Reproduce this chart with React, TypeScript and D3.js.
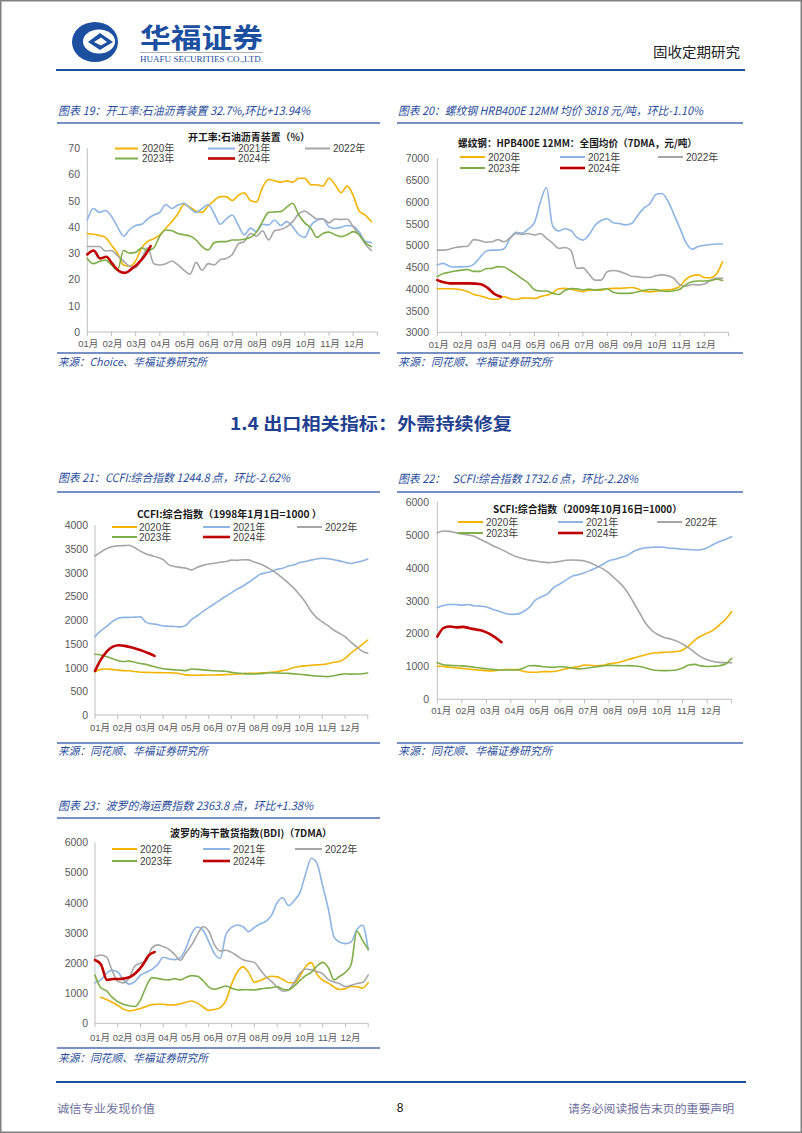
import React from "react";
import * as d3 from "d3";

// ---------- shared categories ----------
const SERIES_NAMES = ["2020年", "2021年", "2022年", "2023年", "2024年"];
const SERIES_COLORS = ["#F2B400", "#8DB4E2", "#A6A6A6", "#7FAE48", "#C00000"];
const SERIES_WIDTHS = [1.6, 1.6, 1.6, 1.6, 2.6];
const MONTH_LABELS = ["01月", "02月", "03月", "04月", "05月", "06月", "07月", "08月", "09月", "10月", "11月", "12月"];
const STEP = 0.25; // months between readings (2020-2023)
const STEP_2024 = 0.262; // months between readings (2024)

// ---------- 图表19 开工率:石油沥青装置 (%) ----------
const asphalt2020 = [37.5, 37.2, 36.7, 36.0, 33.0, 30.0, 25.5, 25.0, 27.0, 32.0, 34.5, 35.5, 37.0, 39.5, 42.0, 45.0, 48.5, 47.5, 46.0, 45.5, 48.0, 50.0, 51.5, 51.5, 50.0, 52.0, 53.0, 50.0, 49.5, 55.0, 58.0, 57.5, 57.0, 57.5, 57.0, 58.5, 58.5, 56.0, 56.0, 55.5, 58.5, 56.0, 53.0, 55.5, 52.0, 46.0, 44.5, 42.0];
const asphalt2021 = [42.6, 47.0, 45.5, 46.2, 44.0, 40.0, 36.5, 39.0, 40.5, 41.0, 43.0, 44.5, 45.5, 48.5, 47.0, 48.3, 49.0, 47.0, 45.5, 47.0, 48.5, 45.0, 41.0, 43.0, 44.5, 40.5, 37.0, 39.5, 38.2, 41.0, 40.7, 42.6, 40.5, 42.0, 40.0, 37.0, 36.0, 40.5, 42.5, 43.0, 40.0, 39.4, 39.8, 40.5, 40.2, 38.0, 34.5, 34.0];
const asphalt2022 = [32.5, 32.5, 32.5, 30.8, 31.0, 29.0, 27.0, 25.0, 24.5, 28.0, 32.0, 26.0, 25.5, 26.0, 27.0, 25.5, 23.5, 22.0, 26.5, 23.5, 26.0, 25.5, 27.5, 28.0, 29.5, 33.5, 34.5, 37.5, 36.5, 38.5, 35.0, 38.5, 39.0, 40.0, 42.0, 45.0, 46.0, 44.5, 43.0, 43.0, 41.5, 43.0, 42.8, 43.0, 40.0, 37.0, 33.5, 31.0];
const asphalt2023 = [28.0, 26.0, 26.8, 27.4, 25.5, 23.5, 31.0, 30.0, 30.3, 32.0, 31.0, 32.0, 36.5, 38.8, 38.5, 37.5, 37.0, 36.5, 35.0, 32.5, 31.2, 34.0, 34.4, 34.4, 35.0, 35.0, 35.3, 36.0, 38.0, 42.0, 45.5, 45.7, 45.8, 47.5, 49.0, 44.5, 41.5, 39.5, 36.0, 37.5, 38.0, 37.0, 36.3, 37.0, 38.2, 37.0, 34.0, 32.5];
const asphalt2024 = [29.5, 31.0, 28.0, 28.6, 25.8, 23.2, 22.5, 24.0, 26.0, 28.8, 32.7];

// ---------- 图表20 螺纹钢 (元/吨) ----------
const rebar2020 = [4000, 4000, 4000, 3995, 3975, 3940, 3870, 3840, 3800, 3760, 3760, 3820, 3770, 3755, 3785, 3790, 3780, 3820, 3850, 3900, 4000, 4010, 3990, 3960, 3935, 3970, 3970, 3970, 4000, 4010, 4010, 4020, 4030, 4000, 3940, 3930, 3940, 3970, 3975, 3995, 4060, 4220, 4300, 4320, 4260, 4255, 4340, 4620];
const rebar2021 = [4550, 4585, 4520, 4500, 4505, 4510, 4560, 4720, 4860, 4890, 4890, 4920, 5160, 5300, 5280, 5380, 5520, 6000, 6330, 5450, 5330, 5380, 5340, 5180, 5120, 5240, 5460, 5570, 5610, 5520, 5500, 5470, 5500, 5680, 5850, 5950, 6160, 6190, 6020, 5710, 5390, 5060, 4910, 4970, 5000, 5020, 5030, 5030];
const rebar2022 = [4890, 4890, 4910, 4950, 4970, 4980, 5130, 5110, 5070, 5080, 5130, 5080, 5170, 5270, 5250, 5270, 5240, 5270, 5160, 5050, 4930, 4950, 4890, 4470, 4480, 4340, 4200, 4200, 4390, 4420, 4400, 4350, 4290, 4280, 4260, 4260, 4300, 4320, 4300, 4240, 4090, 4060, 4100, 4090, 4110, 4190, 4250, 4240];
const rebar2023 = [4280, 4350, 4380, 4410, 4430, 4445, 4400, 4400, 4460, 4470, 4510, 4500, 4420, 4330, 4230, 4130, 3980, 3950, 3950, 3900, 3870, 3960, 4005, 4000, 3975, 3995, 3970, 3990, 4000, 3920, 3895, 3895, 3900, 3930, 3965, 3985, 3980, 3950, 3940, 3955, 3990, 4100, 4160, 4180, 4180, 4190, 4220, 4190];
const rebar2024 = [4200, 4150, 4125, 4125, 4125, 4125, 4120, 4100, 4010, 3880, 3818];

// ---------- 图表21 CCFI ----------
const ccfi2020 = [912, 960, 968, 960, 945, 935, 930, 915, 900, 898, 895, 893, 891, 890, 885, 870, 845, 838, 838, 840, 842, 842, 845, 850, 856, 862, 870, 877, 878, 885, 891, 900, 912, 935, 960, 1000, 1020, 1035, 1048, 1055, 1062, 1080, 1110, 1125, 1190, 1300, 1390, 1480, 1579];
const ccfi2021 = [1650, 1770, 1860, 1960, 2030, 2056, 2056, 2060, 2065, 1950, 1920, 1905, 1875, 1870, 1862, 1855, 1890, 2010, 2090, 2180, 2260, 2340, 2420, 2500, 2570, 2650, 2710, 2790, 2870, 2960, 2990, 3020, 3070, 3090, 3135, 3160, 3210, 3230, 3260, 3285, 3300, 3290, 3270, 3245, 3215, 3190, 3215, 3240, 3285];
const ccfi2022 = [3347, 3430, 3500, 3545, 3560, 3565, 3575, 3520, 3450, 3390, 3355, 3320, 3270, 3160, 3125, 3108, 3090, 3055, 3110, 3150, 3180, 3195, 3215, 3230, 3260, 3255, 3270, 3265, 3220, 3185, 3125, 3060, 2975, 2880, 2780, 2670, 2530, 2380, 2190, 2050, 1960, 1880, 1790, 1720, 1650, 1540, 1440, 1345, 1298];
const ccfi2023 = [1280, 1265, 1230, 1190, 1150, 1125, 1135, 1110, 1085, 1065, 1030, 1000, 975, 960, 950, 945, 935, 970, 960, 950, 940, 930, 925, 920, 900, 885, 875, 865, 863, 870, 880, 890, 885, 878, 877, 865, 858, 845, 830, 822, 815, 808, 825, 850, 868, 860, 862, 868, 885];
const ccfi2024 = [926, 1170, 1340, 1440, 1470, 1455, 1425, 1390, 1350, 1300, 1245];

// ---------- 图表22 SCFI ----------
const scfi2020 = [1012, 995, 975, 960, 940, 920, 900, 885, 868, 862, 880, 905, 905, 900, 850, 820, 820, 838, 840, 845, 880, 925, 965, 990, 1040, 1035, 1020, 1035, 1075, 1100, 1140, 1200, 1250, 1305, 1350, 1398, 1417, 1427, 1435, 1450, 1500, 1620, 1800, 1920, 2010, 2100, 2260, 2430, 2661];
const scfi2021 = [2782, 2850, 2880, 2880, 2855, 2880, 2840, 2830, 2805, 2735, 2680, 2612, 2580, 2585, 2660, 2790, 3010, 3116, 3200, 3400, 3500, 3620, 3740, 3785, 3845, 3920, 4000, 4100, 4210, 4250, 4310, 4370, 4490, 4560, 4600, 4615, 4620, 4615, 4585, 4580, 4555, 4550, 4533, 4540, 4600, 4700, 4790, 4860, 4937];
const scfi2022 = [5059, 5110, 5100, 5060, 5020, 4990, 4950, 4860, 4770, 4670, 4590, 4500, 4400, 4320, 4270, 4225, 4200, 4169, 4150, 4160, 4190, 4220, 4229, 4220, 4200, 4140, 4050, 3960, 3830, 3660, 3490, 3250, 2940, 2620, 2300, 2090, 1960, 1880, 1830, 1770, 1680, 1560, 1420, 1290, 1200, 1150, 1120, 1113, 1113];
const scfi2023 = [1113, 1050, 1030, 1022, 1015, 1000, 975, 950, 930, 905, 890, 890, 890, 890, 945, 1020, 1022, 995, 980, 970, 990, 980, 945, 925, 935, 965, 990, 1015, 1030, 1025, 1020, 1022, 1012, 995, 950, 900, 875, 870, 875, 890, 950, 1040, 1060, 1015, 995, 1005, 1020, 1070, 1245];
const scfi2024 = [1902, 2170, 2210, 2185, 2200, 2160, 2120, 2085, 2000, 1880, 1733];

// ---------- 图表23 BDI ----------
const bdi2020 = [null, 860, 790, 700, 590, 470, 412, 440, 490, 560, 620, 630, 630, 608, 610, 650, 700, 740, 670, 540, 430, 455, 520, 750, 1300, 1700, 1870, 1680, 1360, 1420, 1500, 1560, 1540, 1450, 1350, 1340, 1560, 1880, 2010, 1620, 1430, 1330, 1200, 1120, 1150, 1220, 1210, 1170, 1348];
const bdi2021 = [1348, 1440, 1650, 1760, 1700, 1440, 1300, 1380, 1600, 1690, 1790, 1950, 2190, 2140, 2110, 2180, 2500, 2984, 3190, 3080, 2700, 2300, 2150, 2950, 3180, 3260, 3200, 3040, 3180, 3290, 3380, 3580, 4000, 4160, 3900, 4070, 4330, 4950, 5470, 5300, 4550, 3780, 2850, 2690, 2640, 2700, 3100, 3250, 2431];
const bdi2022 = [2210, 2265, 2200, 1750, 1400, 1340, 1500, 1900, 1990, 2060, 2500, 2600, 2540, 2453, 2280, 2090, 2350, 2600, 2950, 3200, 3050, 2600, 2400, 2420, 2350, 2230, 2110, 2060, 2020, 1780, 1550, 1390, 1200, 1060, 1105, 1350, 1658, 1800, 1768, 1713, 1640, 1450, 1370, 1310, 1216, 1260, 1320, 1350, 1602];
const bdi2023 = [1602, 1180, 1080, 870, 720, 630, 580, 555, 780, 1220, 1514, 1490, 1450, 1440, 1480, 1440, 1520, 1580, 1560, 1410, 1200, 1130, 1180, 1235, 1160, 1105, 1110, 1110, 1105, 1140, 1160, 1180, 1210, 1130, 1110, 1240, 1420, 1580, 1690, 1900, 2020, 1840, 1440, 1560, 1690, 1950, 3050, 2750, 2453];
const bdi2024 = [2100, 1950, 1440, 1470, 1470, 1490, 1550, 1700, 1930, 2250, 2364];

// ---------- layout / styles ----------
const SANS = "'Liberation Sans', Arial, 'Noto Sans CJK SC', sans-serif";
const CJK = "'Noto Sans CJK SC', 'Liberation Sans', sans-serif";
const BLUE = "#1C4FA0";
const TITLE_BLUE = "#2A4D9B";
const RULE_BLUE = "#4A6DB0";

type Cfg = {
  title: string; titleX: number; titleY: number; titleW: number;
  ruleX1: number; ruleX2: number; ruleY: number;
  chartTitle: string; ctX: number; ctY: number; ctW: number;
  left: number; monthW: number; top: number; bottom: number;
  yMin: number; yMax: number; yStep: number; yLabelRight: number;
  xLabelY: number; xLabelOff: number;
  legendRows: number[]; legendCols: number[][];
  series: (number | null)[][];
  srcLineY: number; srcY: number; source: string; srcW: number;
};

const CHARTS: Cfg[] = [
  {
    title: "图表 19：开工率:石油沥青装置 32.7%,环比+13.94%", titleX: 58, titleY: 110, titleW: 252,
    ruleX1: 57, ruleX2: 380, ruleY: 123,
    chartTitle: "开工率:石油沥青装置（%）", ctX: 188, ctY: 136.5, ctW: 122,
    left: 87.3, monthW: 24.17, top: 148, bottom: 332,
    yMin: 0, yMax: 70, yStep: 10, yLabelRight: 80,
    xLabelY: 343, xLabelOff: 1,
    legendRows: [148.5, 158.5],
    legendCols: [[115, 138, 142], [208, 235, 238], [305, 330, 333]],
    series: [asphalt2020, asphalt2021, asphalt2022, asphalt2023, asphalt2024],
    srcLineY: 353, srcY: 361, source: "来源：Choice、华福证券研究所", srcW: 149,
  },
  {
    title: "图表 20：螺纹钢 HRB400E 12MM 均价 3818 元/吨，环比-1.10%", titleX: 398, titleY: 110, titleW: 305,
    ruleX1: 397, ruleX2: 743, ruleY: 123,
    chartTitle: "螺纹钢：HPB400E 12MM：全国均价（7DMA，元/吨）", ctX: 458, ctY: 142, ctW: 239,
    left: 437.3, monthW: 24.27, top: 158.3, bottom: 332.3,
    yMin: 3000, yMax: 7000, yStep: 500, yLabelRight: 429,
    xLabelY: 344, xLabelOff: 1.5,
    legendRows: [157, 168],
    legendCols: [[460, 485, 488], [560, 585, 588], [658, 683, 686]],
    series: [rebar2020, rebar2021, rebar2022, rebar2023, rebar2024],
    srcLineY: 353, srcY: 361, source: "来源：同花顺、华福证券研究所", srcW: 154,
  },
  {
    title: "图表 21：CCFI:综合指数 1244.8 点，环比-2.62%", titleX: 58, titleY: 477, titleW: 232,
    ruleX1: 57, ruleX2: 380, ruleY: 492,
    chartTitle: "CCFI:综合指数（1998年1月1日=1000 ）", ctX: 137, ctY: 513, ctW: 185,
    left: 95, monthW: 22.73, top: 525, bottom: 715,
    yMin: 0, yMax: 4000, yStep: 500, yLabelRight: 88,
    xLabelY: 727, xLabelOff: 5,
    legendRows: [527, 537],
    legendCols: [[112, 137, 139], [203, 230, 233], [297, 322, 325]],
    series: [ccfi2020, ccfi2021, ccfi2022, ccfi2023, ccfi2024],
    srcLineY: 743, srcY: 750, source: "来源：同花顺、华福证券研究所", srcW: 150,
  },
  {
    title: "图表 22：\u00A0\u00A0\u00A0SCFI:综合指数 1732.6 点，环比-2.28%", titleX: 398, titleY: 478, titleW: 240,
    ruleX1: 397, ruleX2: 743, ruleY: 492,
    chartTitle: "SCFI:综合指数（2009年10月16日=1000）", ctX: 493, ctY: 508, ctW: 189,
    left: 437.3, monthW: 24.53, top: 501.7, bottom: 699.3,
    yMin: 0, yMax: 6000, yStep: 1000, yLabelRight: 429,
    xLabelY: 710, xLabelOff: 4,
    legendRows: [522, 533],
    legendCols: [[458, 483, 486], [558, 583, 586], [657, 682, 685]],
    series: [scfi2020, scfi2021, scfi2022, scfi2023, scfi2024],
    srcLineY: 743, srcY: 750, source: "来源：同花顺、华福证券研究所", srcW: 154,
  },
  {
    title: "图表 23：波罗的海运费指数 2363.8 点，环比+1.38%", titleX: 58, titleY: 805, titleW: 255,
    ruleX1: 57, ruleX2: 380, ruleY: 818,
    chartTitle: "波罗的海干散货指数(BDI)（7DMA）", ctX: 170, ctY: 832, ctW: 162,
    left: 95, monthW: 22.77, top: 842.3, bottom: 1023.3,
    yMin: 0, yMax: 6000, yStep: 1000, yLabelRight: 88,
    xLabelY: 1037, xLabelOff: 5,
    legendRows: [849, 861],
    legendCols: [[112, 137, 140], [203, 230, 233], [295, 322, 325]],
    series: [bdi2020, bdi2021, bdi2022, bdi2023, bdi2024],
    srcLineY: 1048, srcY: 1057, source: "来源：同花顺、华福证券研究所", srcW: 150,
  },
];

function LineChart({ c }: { c: Cfg }) {
  const x = d3.scaleLinear().domain([0, 12]).range([c.left, c.left + 12 * c.monthW]);
  const y = d3.scaleLinear().domain([c.yMin, c.yMax]).range([c.bottom, c.top]);
  const yTicks = d3.range(c.yMin, c.yMax + c.yStep / 2, c.yStep);
  const monthTicks = d3.range(0, 13);
  const line = d3
    .line<[number, number | null]>()
    .defined((d) => d[1] !== null)
    .x((d) => x(d[0]))
    .y((d) => y(d[1] as number))
    .curve(d3.curveMonotoneX);

  return (
    <g>
      {/* figure title */}
      <text x={c.titleX} y={c.titleY} dominantBaseline="central" fontFamily={CJK} fontStyle="italic"
        fontSize={11.5} fill={TITLE_BLUE} textLength={c.titleW} lengthAdjust="spacingAndGlyphs">{c.title}</text>
      <line x1={c.ruleX1} x2={c.ruleX2} y1={c.ruleY} y2={c.ruleY} stroke={RULE_BLUE} strokeWidth={1.3} />

      {/* chart inner title */}
      <text x={c.ctX} y={c.ctY} dominantBaseline="central" fontFamily={CJK} fontWeight={700}
        fontSize={10} fill="#1a1a1a" textLength={c.ctW} lengthAdjust="spacingAndGlyphs">{c.chartTitle}</text>

      {/* axes */}
      <line x1={x(0)} x2={x(0)} y1={c.top} y2={c.bottom} stroke="#BFBFBF" strokeWidth={1} />
      <line x1={x(0)} x2={x(12)} y1={c.bottom} y2={c.bottom} stroke="#BFBFBF" strokeWidth={1} />
      {monthTicks.map((m) => (
        <line key={"mt" + m} x1={x(m)} x2={x(m)} y1={c.bottom} y2={c.bottom + 4} stroke="#BFBFBF" strokeWidth={1} />
      ))}
      {yTicks.map((v) => (
        <text key={"yt" + v} x={c.yLabelRight} y={y(v)} textAnchor="end" dominantBaseline="central"
          fontFamily={SANS} fontSize={10.5} fill="#595959">{v}</text>
      ))}
      {MONTH_LABELS.map((m, i) => (
        <text key={m} x={x(i) + c.xLabelOff} y={c.xLabelY} textAnchor="middle" dominantBaseline="central"
          fontFamily={SANS} fontSize={9.5} fill="#595959">{m}</text>
      ))}

      {/* series */}
      {c.series.map((s, k) => {
        const step = k === 4 ? STEP_2024 : STEP;
        const pts: [number, number | null][] = s.map((v, i) => [i * step, v]);
        return (
          <path key={"s" + k} d={line(pts) || ""} fill="none" stroke={SERIES_COLORS[k]}
            strokeWidth={SERIES_WIDTHS[k]} strokeLinejoin="round" strokeLinecap="round" />
        );
      })}

      {/* legend */}
      {SERIES_NAMES.map((name, k) => {
        const row = k < 3 ? 0 : 1;
        const col = c.legendCols[k < 3 ? k : k - 3];
        const ly = c.legendRows[row];
        return (
          <g key={"lg" + k}>
            <line x1={col[0]} x2={col[1]} y1={ly} y2={ly} stroke={SERIES_COLORS[k]} strokeWidth={k === 4 ? 2.6 : 2} />
            <text x={col[2]} y={ly} dominantBaseline="central" fontFamily={SANS} fontSize={10} fill="#404040">{name}</text>
          </g>
        );
      })}

      {/* source */}
      <line x1={c.ruleX1} x2={c.ruleX2} y1={c.srcLineY} y2={c.srcLineY} stroke={RULE_BLUE} strokeWidth={1.3} />
      <text x={c.titleX} y={c.srcY} dominantBaseline="central" fontFamily={CJK} fontStyle="italic"
        fontSize={11} fill={TITLE_BLUE} textLength={c.srcW} lengthAdjust="spacingAndGlyphs">{c.source}</text>
    </g>
  );
}

export default function App() {
  return (
    <svg width={802} height={1133} viewBox="0 0 802 1133"
      style={{ position: "absolute", left: 0, top: 0, background: "#fff", display: "block" }}>
      <rect x={0} y={0} width={802} height={1133} fill="#fff" />
      <rect x={0.75} y={0.75} width={800.5} height={1131.5} fill="none" stroke="#808080" strokeWidth={1.5} />

      {/* header logo */}
      <ellipse cx={95} cy={42} rx={23} ry={20} fill={BLUE} />
      <ellipse cx={99} cy={41.5} rx={16} ry={12} fill="#fff" />
      <path d="M88,42 L100,33 L113,42 L100,50 Z" fill={BLUE} />
      <path d="M94,42 L101,37.5 L107,42 L101,45.5 Z" fill="#fff" />
      <text x={140} y={48} fontFamily={CJK} fontWeight={700} fontSize={27} fill={BLUE}
        textLength={123} lengthAdjust="spacingAndGlyphs">华福证券</text>
      <line x1={140} x2={263} y1={52.5} y2={52.5} stroke="#9a9a9a" strokeWidth={0.8} />
      <text x={140} y={62} fontFamily="'Liberation Serif', serif" fontSize={8.5} fill={BLUE}
        textLength={123} lengthAdjust="spacingAndGlyphs">HUAFU SECURITIES CO.,LTD.</text>
      <text x={653} y={51} dominantBaseline="central" fontFamily={CJK} fontSize={14} fill="#222"
        textLength={87} lengthAdjust="spacingAndGlyphs">固收定期研究</text>
      <line x1={56} x2={745} y1={70} y2={70} stroke={BLUE} strokeWidth={2} />

      {/* section heading */}
      <text x={230} y={422} dominantBaseline="central" fontFamily={CJK} fontWeight={700} fontSize={17}
        fill="#1F3F8F" textLength={282} lengthAdjust="spacingAndGlyphs">1.4 出口相关指标：外需持续修复</text>

      {CHARTS.map((c, i) => (
        <LineChart key={i} c={c} />
      ))}

      {/* footer */}
      <line x1={56} x2={746} y1={1082} y2={1082} stroke={BLUE} strokeWidth={2} />
      <text x={57} y={1108} dominantBaseline="central" fontFamily={CJK} fontSize={11} fill="#6E6E9E"
        textLength={98} lengthAdjust="spacingAndGlyphs">诚信专业发现价值</text>
      <text x={400} y={1108} dominantBaseline="central" textAnchor="middle" fontFamily={SANS} fontSize={12} fill="#111">8</text>
      <text x={568} y={1108} dominantBaseline="central" fontFamily={CJK} fontSize={11} fill="#6E6E9E"
        textLength={166} lengthAdjust="spacingAndGlyphs">请务必阅读报告末页的重要声明</text>
    </svg>
  );
}
